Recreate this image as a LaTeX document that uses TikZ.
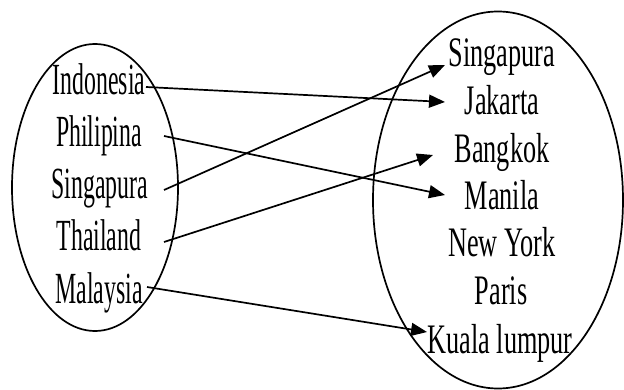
\documentclass[tikz,border=0pt]{standalone}
\usepackage{fontspec}
\usepackage{graphicx}
\setmainfont{Liberation Serif}
\usetikzlibrary{arrows.meta}
\newcommand{\lfttxt}[1]{\scalebox{0.535}[1]{#1}}
\newcommand{\rgttxt}[1]{\scalebox{0.625}[1]{#1}}
\tikzset{
  lbl/.style={inner sep=0pt, anchor=base, font=\fontsize{44.5}{50}\selectfont},
  rlbl/.style={inner sep=0pt, anchor=base, font=\fontsize{42}{48}\selectfont},
  setline/.style={line width=1.7pt},
  maparrow/.style={line width=1.7pt, -{Triangle[length=16pt,width=13pt]}}
}
\begin{document}
\begin{tikzpicture}[x=1pt,y=-1pt]
\useasboundingbox (0,0) rectangle (624,390);
% sets
\coordinate (lc) at (95,187.5);
\coordinate (rc) at (498,200);
\draw[setline] (lc) ellipse [x radius=83, y radius=143.5];
\draw[setline] (rc) ellipse [x radius=125, y radius=188.5];
% left labels
\node[lbl] (ind) at (99,95) {\lfttxt{Indonesia}};
\node[lbl] (phi) at (99,147) {\lfttxt{Philipina}};
\node[lbl] (sgl) at (100,199) {\lfttxt{Singapura}};
\node[lbl] (tha) at (99,251) {\lfttxt{Thailand}};
\node[lbl] (mal) at (99,303) {\lfttxt{Malaysia}};
% right labels
\node[rlbl] (sgr) at (502,67) {\rgttxt{Singapura}};
\node[rlbl] (jak) at (502,115) {\rgttxt{Jakarta}};
\node[rlbl] (bkk) at (502,163) {\rgttxt{Bangkok}};
\node[rlbl] (mnl) at (502,210) {\rgttxt{Manila}};
\node[rlbl] (nyc) at (502,257) {\rgttxt{New York}};
\node[rlbl] (par) at (501,305) {\rgttxt{Paris}};
\node[rlbl] (kul) at (500,353) {\rgttxt{Kuala lumpur}};
% connector ends
\coordinate (ind-s) at (146,87);
\coordinate (phi-s) at (164,136);
\coordinate (sgl-s) at (164,190);
\coordinate (tha-s) at (164,242);
\coordinate (mal-s) at (147,287);
\coordinate (jak-e) at (445,102);
\coordinate (sgr-e) at (445,65);
\coordinate (bkk-e) at (433,155);
\coordinate (mnl-e) at (445,195);
\coordinate (kul-e) at (427,332);
% mappings
\draw[maparrow] (ind-s) -- (jak-e);
\draw[maparrow] (phi-s) -- (mnl-e);
\draw[maparrow] (sgl-s) -- (sgr-e);
\draw[maparrow] (tha-s) -- (bkk-e);
\draw[maparrow] (mal-s) -- (kul-e);
\end{tikzpicture}
\end{document}
